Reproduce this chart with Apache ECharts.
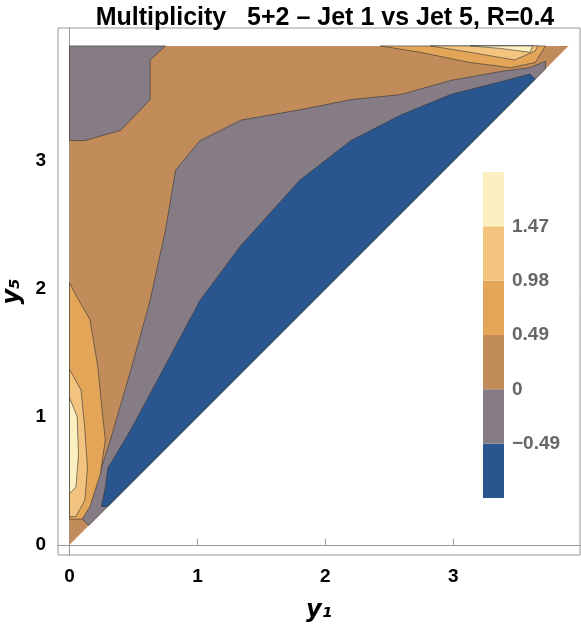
<!DOCTYPE html>
<html>
<head>
<meta charset="utf-8">
<script src="https://cdn.jsdelivr.net/npm/echarts@6/dist/echarts.min.js"></script>
<style>html,body{margin:0;padding:0;background:#fff}</style>
</head>
<body>
<div id="main" style="width:581px;height:631px"></div>
<script>
// contour levels and colours
var levels = [-0.98, -0.49, 0, 0.49, 0.98, 1.47, 1.96];
var levelColors = ['#2a5690', '#857c86', '#c28c5a', '#e3a658', '#f2c47f', '#fcefc0'];
var tickValues = [0, 1, 2, 3];

// region outlines, [y1, y5]
var tanRegion = [[0, 0], [0, 3.9], [3.9, 3.9]];
var greyTopLeft = [[0, 3.9], [0.75, 3.9], [0.63, 3.79], [0.63, 3.48], [0.4, 3.24], [0.12, 3.16], [0, 3.16]];
var greyBand = [[0.1, 0.2], [0.2, 0.45], [0.32, 0.82], [0.48, 1.37], [0.63, 1.91], [0.75, 2.46], [0.83, 2.93],
  [1.02, 3.16], [1.34, 3.32], [1.8, 3.4], [2.2, 3.48], [2.59, 3.52], [2.98, 3.63], [3.37, 3.7], [3.6, 3.73],
  [3.72, 3.78], [3.72, 3.72], [0.15, 0.15]];
var blueBand = [[0.25, 0.3], [0.28, 0.45], [0.3, 0.6], [0.48, 0.9], [0.71, 1.33], [1.02, 1.91], [1.34, 2.34],
  [1.8, 2.85], [2.2, 3.16], [2.59, 3.36], [2.98, 3.52], [3.37, 3.62], [3.6, 3.68], [3.64, 3.64], [0.3, 0.3]];
var orangeLeft = [[0, 2.05], [0.05, 1.95], [0.16, 1.76], [0.22, 1.4], [0.26, 1.0], [0.28, 0.82], [0.24, 0.55],
  [0.16, 0.3], [0.1, 0.2], [0, 0.2]];
var lightLeft = [[0, 1.37], [0.09, 1.21], [0.12, 0.9], [0.14, 0.6], [0.12, 0.35], [0.05, 0.22], [0, 0.22]];
var yellowLeft = [[0, 1.15], [0.06, 1.0], [0.07, 0.7], [0.05, 0.45], [0, 0.4]];
var orangeTop = [[2.43, 3.9], [2.74, 3.85], [3.13, 3.77], [3.45, 3.73], [3.64, 3.77], [3.72, 3.9]];
var lightTop = [[2.82, 3.9], [3.13, 3.85], [3.48, 3.79], [3.64, 3.86], [3.66, 3.9]];
var yellowTop = [[3.13, 3.9], [3.37, 3.88], [3.6, 3.85], [3.62, 3.9]];

var regions = [
  [tanRegion, 2], [greyTopLeft, 1], [greyBand, 1], [blueBand, 0],
  [orangeLeft, 3], [lightLeft, 4], [yellowLeft, 5],
  [orangeTop, 3], [lightTop, 4], [yellowTop, 5]
];

function polySeries(pts, lvl) {
  return {
    type: 'custom', xAxisIndex: 0, yAxisIndex: 0, data: [[0]], silent: true,
    renderItem: function (params, api) {
      return {
        type: 'polygon',
        shape: { points: pts.map(function (p) { return api.coord(p); }) },
        style: { fill: levelColors[lvl], stroke: '#333', lineWidth: lvl === 2 ? 0 : 0.6 }
      };
    }
  };
}

var series = regions.map(function (r) { return polySeries(r[0], r[1]); });
// colour bar
levelColors.forEach(function (c, i) {
  series.push({
    type: 'bar', xAxisIndex: 1, yAxisIndex: 1, stack: 'bar', barWidth: '100%', silent: true,
    data: [[0, 0.49]],
    itemStyle: { color: c }
  });
});

var chart = echarts.init(document.getElementById('main'));
var boldTxt = { color: '#000', fontSize: 19, fontWeight: 'bold', fontFamily: 'Liberation Sans' };
var nameTxt = { color: '#000', fontSize: 24, fontWeight: 'bold', fontStyle: 'italic', fontFamily: 'DejaVu Sans' };
chart.setOption({
  animation: false,
  title: {
    text: 'Multiplicity   5+2 \u2013 Jet 1 vs Jet 5, R=0.4', left: 320, top: 1, textAlign: 'center',
    textStyle: { fontSize: 25, fontWeight: 'bold', color: '#000', fontFamily: 'Liberation Sans' }
  },
  grid: [
    { left: 58, right: 1, top: 28, bottom: 76, show: true, borderColor: '#999', borderWidth: 1, outerBoundsMode: 'none', containLabel: false },
    { left: 483, width: 21, top: 172, height: 326, outerBoundsMode: 'none', containLabel: false }
  ],
  xAxis: [
    { type: 'value', min: -0.09, max: 3.99, gridIndex: 0,
      name: 'y\u2081', nameLocation: 'middle', nameGap: 44, nameTextStyle: nameTxt,
      axisLine: { lineStyle: { color: '#999' } }, splitLine: { show: false },
      axisTick: { customValues: tickValues, length: 6, inside: true, lineStyle: { color: '#999' } },
      axisLabel: { customValues: tickValues, ...boldTxt, margin: 12 } },
    { type: 'category', gridIndex: 1, data: [0], show: false }
  ],
  yAxis: [
    { type: 'value', min: -0.08, max: 4.04, gridIndex: 0,
      name: 'y\u2085', nameLocation: 'middle', nameGap: 30, nameRotate: 90, nameTextStyle: nameTxt,
      axisLine: { show: true, lineStyle: { color: '#999' } }, splitLine: { show: false },
      axisTick: { customValues: tickValues, length: 6, inside: true, lineStyle: { color: '#999' } },
      axisLabel: { customValues: tickValues, ...boldTxt, margin: 12 } },
    { type: 'value', gridIndex: 1, min: 0, max: 2.94, position: 'right',
      axisLine: { show: false }, axisTick: { show: false }, splitLine: { show: false },
      axisLabel: { customValues: [0.49, 0.98, 1.47, 1.96, 2.45],
        formatter: function (v) { var l = Math.round((v - 0.98) * 100) / 100; return l < 0 ? '\u22120.49' : String(l); },
        color: '#666', fontSize: 19, fontWeight: 'bold', fontFamily: 'Liberation Sans', margin: 8 } }
  ],
  series: series
});
</script>
</body>
</html>
